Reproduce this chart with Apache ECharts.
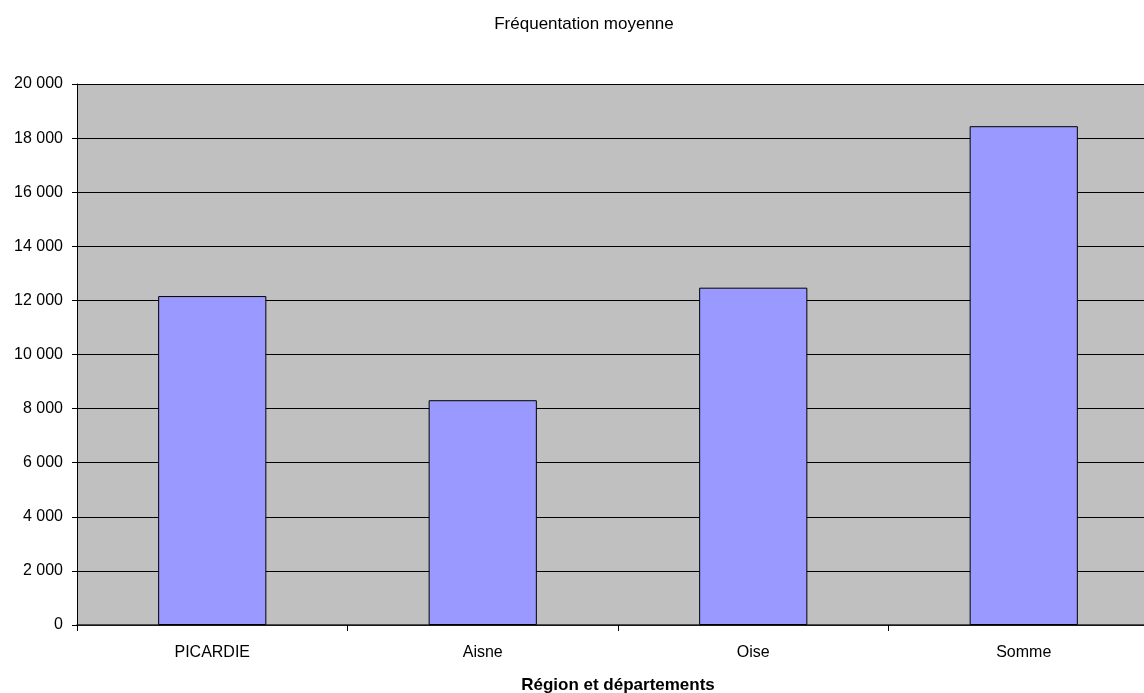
<!DOCTYPE html>
<html>
<head>
<meta charset="utf-8">
<script src="https://cdn.jsdelivr.net/npm/echarts@6/dist/echarts.min.js"></script>
<style>
html,body{margin:0;padding:0;background:#fff;}
#main{width:1144px;height:693px;}
</style>
</head>
<body>
<div id="main"></div>
<script>
const categories = ['PICARDIE', 'Aisne', 'Oise', 'Somme'];
const values = [12160, 8310, 12470, 18440];
const yTicks = [0, 2000, 4000, 6000, 8000, 10000, 12000, 14000, 16000, 18000, 20000];

const chart = echarts.init(document.getElementById('main'), null, {renderer: 'canvas'});
const fontFamily = '"Liberation Sans", Arial, sans-serif';
chart.setOption({
  animation: false,
  backgroundColor: '#ffffff',
  title: {
    text: 'Fréquentation moyenne',
    left: 579,
    top: 11,
    textAlign: 'center',
    textStyle: {fontFamily: fontFamily, fontSize: 17, fontWeight: 'normal', color: '#000'}
  },
  grid: {
    left: 77, top: 84, bottom: 68, right: -15,
    outerBoundsMode: 'none',
    containLabel: false,
    show: true, backgroundColor: '#C0C0C0', borderWidth: 0
  },
  xAxis: {
    type: 'category',
    data: categories,
    name: 'Région et départements',
    nameLocation: 'middle',
    nameGap: 52,
    nameTextStyle: {fontFamily: fontFamily, fontSize: 17, fontWeight: 'bold', color: '#000'},
    axisLine: {lineStyle: {color: '#222', width: 1.5}},
    axisTick: {show: true, length: 6, lineStyle: {color: '#000'}},
    axisLabel: {fontFamily: fontFamily, fontSize: 16, color: '#000', margin: 20},
    splitLine: {show: false}
  },
  yAxis: {
    type: 'value',
    min: yTicks[0],
    max: yTicks[yTicks.length - 1],
    interval: 2000,
    axisLine: {show: true, lineStyle: {color: '#000', width: 1}},
    axisTick: {show: true, length: 5, lineStyle: {color: '#000'}},
    axisLabel: {
      fontFamily: fontFamily, fontSize: 16, color: '#000', margin: 14,
      formatter: function (v) { return String(v).replace(/\B(?=(\d{3})+(?!\d))/g, ' '); }
    },
    splitLine: {show: true, lineStyle: {color: '#000', width: 1}}
  },
  series: [{
    type: 'bar',
    data: values,
    barWidth: '40%',
    itemStyle: {color: '#9999FF', borderColor: '#000', borderWidth: 1}
  }]
});
</script>
</body>
</html>
